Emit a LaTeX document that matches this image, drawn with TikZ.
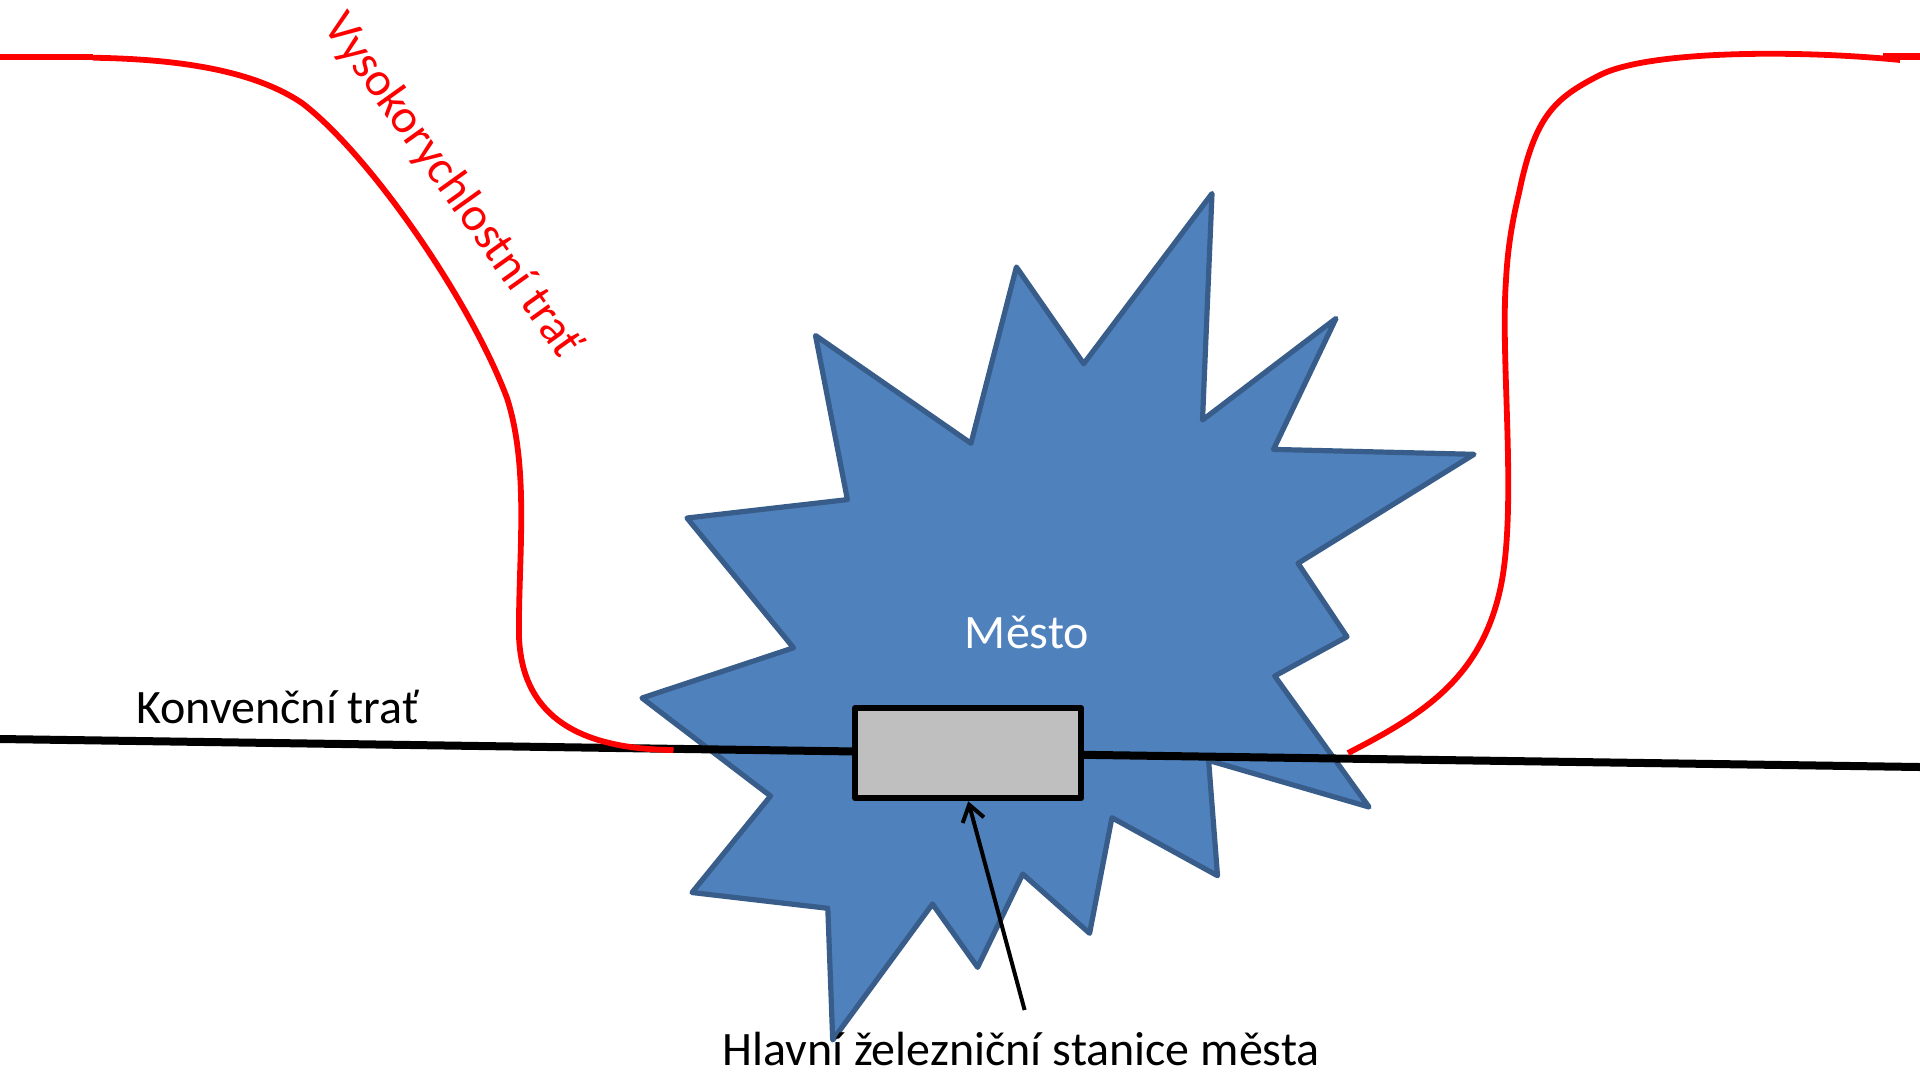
\documentclass[tikz,border=0pt]{standalone}
\usepackage{fontspec}
\setmainfont{Carlito}
\usetikzlibrary{arrows.meta}
\definecolor{cityfill}{HTML}{4F81BD}
\definecolor{cityline}{HTML}{385D8A}
\definecolor{stationfill}{HTML}{BFBFBF}
\tikzset{
  citystyle/.style={draw=cityline,fill=cityfill,line width=2.6pt,line join=round},
  hsline/.style={draw=red,line width=2.9pt},
  hsstub/.style={draw=red,line width=3.4pt},
  convline/.style={draw=black,line width=4pt},
  stationbox/.style={draw=black,fill=stationfill,line width=2.9pt,minimum width=113.15pt,minimum height=45.15pt,inner sep=0pt,line join=round},
  labeltext/.style={font=\fontsize{24}{28}\selectfont,inner sep=0pt},
  pointer/.style={draw=black,line width=2pt,-{Straight Barb[length=8pt,width=11pt,line width=2pt]}}
}
\begin{document}
\begin{tikzpicture}[x=0.5pt,y=-0.5pt]
\useasboundingbox (0,0) rectangle (1920,1073);
% city
\path[citystyle] (1212,193.5) -- (1202.5,420) -- (1336,318.4) -- (1273.5,449.4) -- (1474,454.3) -- (1298,563.3) -- (1347,636.7) -- (1274.7,676) -- (1369,807) -- (1208.6,760.4) -- (1217.5,875.7) -- (1111.9,817.7) -- (1089.6,933.3) -- (1022.7,874) -- (977.6,967.3) -- (932.5,904) -- (832.7,1040) -- (827.8,908.3) -- (692,892.5) -- (770.5,796) -- (642,698) -- (793.5,647.8) -- (687,518) -- (847.4,499.6) -- (815.5,335.5) -- (971,443.3) -- (1016.4,267) -- (1083.7,363.7) -- cycle;
\node[labeltext,text=white] (city) at (1027,632) {Město};
% conventional line
\coordinate (convL) at (0,739);
\coordinate (convR) at (1920,767);
\path[convline] (convL) -- (convR);
% high-speed line
\path[hsstub] (0,57) -- (93,57);
\path[hsline] (93,57.7) .. controls (170,59) and (250,68) .. (302,103) .. controls (370,155) and (470,300) .. (507,398) .. controls (530,470) and (518,560) .. (519,637) .. controls (522,710) and (570,749) .. (673.5,750);
\path[hsline] (1348,753) .. controls (1420,716) and (1480,680) .. (1500,590) .. controls (1518,510) and (1500,360) .. (1506,280) .. controls (1508,240) and (1515,210) .. (1519,193) .. controls (1535,115) and (1555,98) .. (1600,75) .. controls (1650,50) and (1800,50) .. (1900,60);
\path[hsstub] (1883,56.7) -- (1920,56.7);
% station
\node[stationbox] (station) at (968.2,753.2) {};
\coordinate (pointerfoot) at (1024.6,1010);
\path[pointer] (pointerfoot) -- (station.south);
% labels
\node[labeltext,anchor=base] (stationlabel) at (1021,1065) {Hlavní železniční stanice města};
\node[labeltext,anchor=base west] (convlabel) at (136,723) {Konvenční trať};
\node[labeltext,text=red,rotate=-54.5] (hslabel) at (452,186) {Vysokorychlostní trať};
\end{tikzpicture}
\end{document}
